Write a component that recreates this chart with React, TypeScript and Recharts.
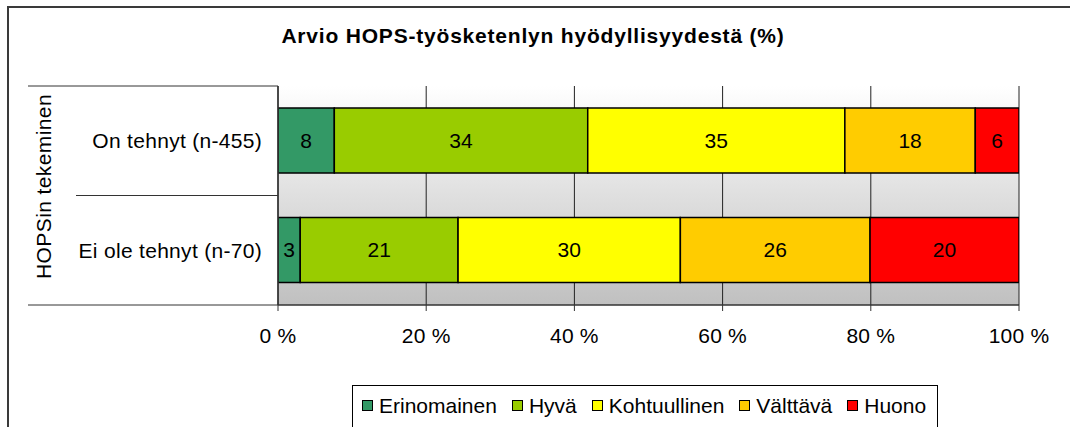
import React from 'react';
import { BarChart, Bar, XAxis, YAxis, CartesianGrid, LabelList } from 'recharts';

const categories = ['On tehnyt (n-455)', 'Ei ole tehnyt (n-70)'];
const erinomainen = [7.6, 3.0];
const hyva = [34.2, 21.3];
const kohtuullinen = [34.7, 30.0];
const valttava = [17.6, 25.6];
const huono = [5.9, 20.1];
const seriesNames = ['Erinomainen', 'Hyvä', 'Kohtuullinen', 'Välttävä', 'Huono'];
const seriesKeys = ['s0', 's1', 's2', 's3', 's4'];
const seriesColors = ['#339966', '#99CC00', '#FFFF00', '#FFCC00', '#FF0000'];
const xTicks = [0, 20, 40, 60, 80, 100];
const title = 'Arvio HOPS-työsketenlyn hyödyllisyydestä (%)';
const axisTitle = 'HOPSin tekeminen';

const seriesValues = [erinomainen, hyva, kohtuullinen, valttava, huono];
const data = categories.map((name, i) => {
  const row: any = { name };
  seriesKeys.forEach((k, j) => (row[k] = seriesValues[j][i]));
  return row;
});

const W = 1070;
const H = 427;
const M = { top: 86, right: 51, bottom: 82, left: 0 };
const Y_W = 278;
const X_H = 40;
const PLOT_H = H - M.top - M.bottom - X_H;
const FONT = '"Liberation Sans", Arial, sans-serif';
const FS = 21;

const CatTick = (props: any) => {
  const { y, payload, index } = props;
  const band = PLOT_H / categories.length;
  const last = index === categories.length - 1;
  return (
    <g>
      {index === 0 && (
        <line x1={28} x2={Y_W} y1={y - band / 2} y2={y - band / 2} stroke="#333" strokeWidth={1} />
      )}
      <line x1={last ? 28 : 76} x2={Y_W} y1={y + band / 2} y2={y + band / 2} stroke="#333" strokeWidth={1} />
      <text
        x={Y_W - 16}
        y={y}
        textAnchor="end"
        dominantBaseline="central"
        fontFamily={FONT}
        fontSize={FS}
        letterSpacing={0.3}
        fill="#000"
      >
        {payload.value}
      </text>
    </g>
  );
};

const AxisTitle = (props: any) => {
  const vb = props.viewBox || { x: 0, y: M.top, width: Y_W, height: PLOT_H };
  const cx = vb.x + 43;
  const cy = vb.y + vb.height / 2 - 9;
  return (
    <text
      x={cx}
      y={cy}
      transform={`rotate(-90 ${cx} ${cy})`}
      textAnchor="middle"
      dominantBaseline="central"
      fontFamily={FONT}
      fontSize={FS}
      letterSpacing={0.4}
      fill="#000"
    >
      {axisTitle}
    </text>
  );
};

export default function App() {
  return (
    <div style={{ position: 'absolute', left: 0, top: 0, width: W, height: H, overflow: 'hidden', background: '#fff', fontFamily: FONT }}>
      <div
        style={{
          position: 'absolute',
          left: 7,
          top: 6,
          width: W,
          height: H,
          borderTop: '2px solid #3a3a3a',
          borderLeft: '2px solid #3a3a3a',
        }}
      />
      <div
        style={{
          position: 'absolute',
          left: 0,
          top: 25,
          width: 1066,
          textAlign: 'center',
          fontSize: 21,
          lineHeight: '21px',
          fontWeight: 'bold',
          letterSpacing: 0.8,
          color: '#000',
        }}
      >
        {title}
      </div>
      <div style={{ position: 'absolute', left: 0, top: 0 }}>
        <BarChart width={W} height={H} data={data} layout="vertical" margin={M} barSize={65}>
          <defs>
            <linearGradient id="plotBg" x1="0" y1="0" x2="0" y2="1">
              <stop offset="0%" stopColor="#FFFFFF" />
              <stop offset="100%" stopColor="#C0C0C0" />
            </linearGradient>
          </defs>
          <CartesianGrid horizontal={false} vertical stroke="#222" fill="url(#plotBg)" fillOpacity={1} />
          <XAxis
            type="number"
            domain={[0, 100]}
            ticks={xTicks}
            interval={0}
            allowDataOverflow
            tickFormatter={(v: number) => `${v} %`}
            height={X_H}
            axisLine={{ stroke: '#333', strokeWidth: 1.5 }}
            tickLine={{ stroke: '#333' }}
            tickSize={6}
            tickMargin={17}
            tick={{ fontSize: FS, fill: '#000', fontFamily: FONT, letterSpacing: 0.2 }}
          />
          <XAxis
            xAxisId="top"
            orientation="top"
            type="number"
            domain={[0, 100]}
            height={0}
            tick={false}
            tickLine={false}
            axisLine={{ stroke: '#999', strokeWidth: 1.5 }}
          />
          <YAxis
            type="category"
            dataKey="name"
            width={Y_W}
            axisLine={{ stroke: '#333', strokeWidth: 1.5 }}
            tickLine={false}
            tick={<CatTick />}
            label={<AxisTitle />}
          />
          <YAxis
            yAxisId="right"
            orientation="right"
            type="category"
            dataKey="name"
            width={0}
            tick={false}
            tickLine={false}
            axisLine={{ stroke: '#999', strokeWidth: 1.5 }}
          />
          {seriesKeys.map((k, j) => (
            <Bar
              key={k}
              dataKey={k}
              name={seriesNames[j]}
              stackId="a"
              fill={seriesColors[j]}
              stroke="#000"
              strokeWidth={1.5}
              isAnimationActive={false}
            >
              <LabelList
                dataKey={k}
                position="center"
                formatter={(v: any) => Math.round(Number(v))}
                fill="#000"
                fontSize={FS}
                fontFamily={FONT}
              />
            </Bar>
          ))}
        </BarChart>
      </div>
      <div
        style={{
          position: 'absolute',
          left: 352,
          top: 385,
          width: 586,
          height: 60,
          border: '1px solid #000',
          boxSizing: 'border-box',
        }}
      >
        <div style={{ position: 'absolute', left: 9, top: 9, display: 'flex', alignItems: 'center', whiteSpace: 'nowrap' }}>
          {seriesNames.map((n, j) => (
            <div key={n} style={{ display: 'flex', alignItems: 'center', marginRight: 15 }}>
              <div
                style={{
                  width: 11,
                  height: 11,
                  background: seriesColors[j],
                  border: '1px solid #000',
                  boxSizing: 'border-box',
                  marginRight: 6,
                }}
              />
              <span style={{ fontSize: FS, lineHeight: '21px', color: '#000' }}>{n}</span>
            </div>
          ))}
        </div>
      </div>
    </div>
  );
}
